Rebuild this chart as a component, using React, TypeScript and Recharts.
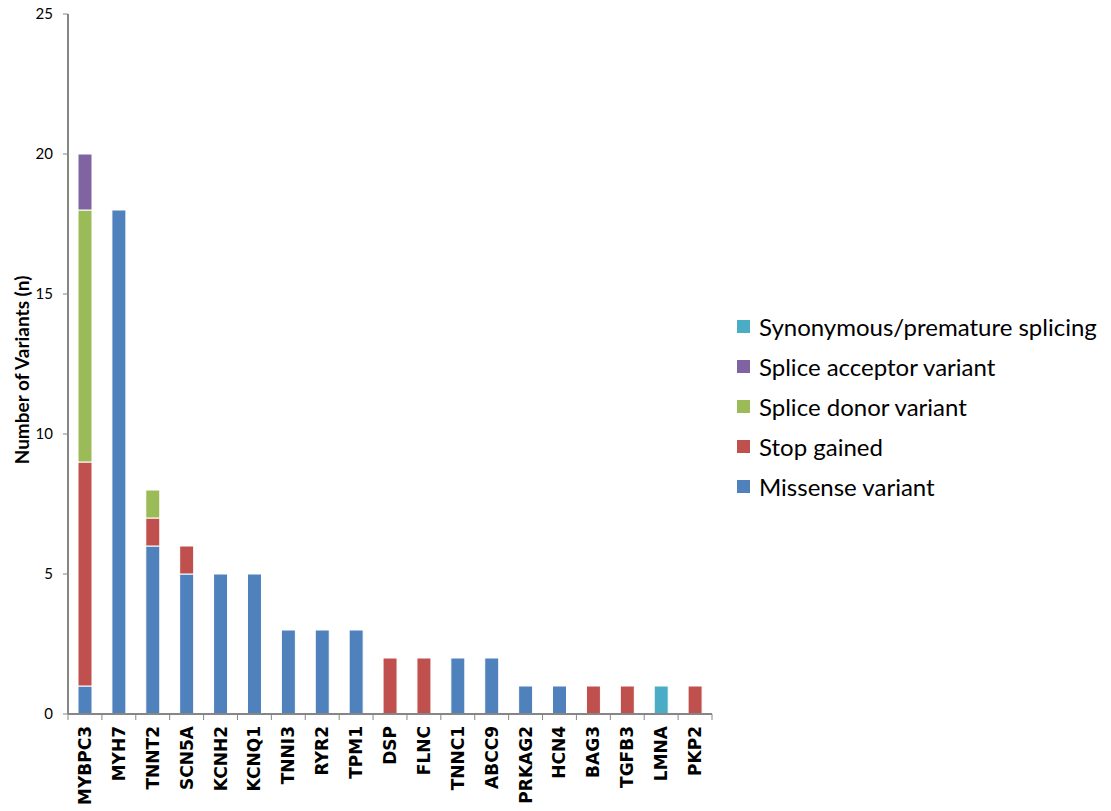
import React from 'react';
import { BarChart, Bar, XAxis, YAxis, Legend } from 'recharts';

// Genes on the x axis
const genes = [
  'MYBPC3', 'MYH7', 'TNNT2', 'SCN5A', 'KCNH2', 'KCNQ1', 'TNNI3', 'RYR2', 'TPM1',
  'DSP', 'FLNC', 'TNNC1', 'ABCC9', 'PRKAG2', 'HCN4', 'BAG3', 'TGFB3', 'LMNA', 'PKP2',
];

// Variant counts per gene, one array per consequence type
const missense = [1, 18, 6, 5, 5, 5, 3, 3, 3, 0, 0, 2, 2, 1, 1, 0, 0, 0, 0];
const stopGained = [8, 0, 1, 1, 0, 0, 0, 0, 0, 2, 2, 0, 0, 0, 0, 1, 1, 0, 1];
const spliceDonor = [9, 0, 1, 0, 0, 0, 0, 0, 0, 0, 0, 0, 0, 0, 0, 0, 0, 0, 0];
const spliceAcceptor = [2, 0, 0, 0, 0, 0, 0, 0, 0, 0, 0, 0, 0, 0, 0, 0, 0, 0, 0];
const synonymous = [0, 0, 0, 0, 0, 0, 0, 0, 0, 0, 0, 0, 0, 0, 0, 0, 0, 1, 0];

const yTicks = [0, 5, 10, 15, 20, 25];

// Series definitions, stacked bottom to top
const series = [
  { key: 'missense', name: 'Missense variant', color: '#4F81BD', values: missense },
  { key: 'stop', name: 'Stop gained', color: '#C0504D', values: stopGained },
  { key: 'donor', name: 'Splice donor variant', color: '#9BBB59', values: spliceDonor },
  { key: 'acceptor', name: 'Splice acceptor variant', color: '#8064A2', values: spliceAcceptor },
  { key: 'syn', name: 'Synonymous/premature splicing', color: '#4BACC6', values: synonymous },
];

const data = genes.map((gene, i) => {
  const row: Record<string, string | number> = { gene };
  series.forEach((s) => {
    row[s.key] = s.values[i];
  });
  return row;
});

const AXIS_COLOR = '#868686';
const LABEL_GAP = 12;
const TICK_LEN = 6;

// Rotated gene label plus the tick marks that sit on the band boundaries
const GeneTick = (props: any) => {
  const { x, y, payload, width, index, visibleTicksCount } = props;
  const band = width / visibleTicksCount;
  const axisY = y - LABEL_GAP;
  const left = x - band / 2;
  const right = x + band / 2;
  return (
    <g>
      <line x1={left} y1={axisY} x2={left} y2={axisY + TICK_LEN} stroke={AXIS_COLOR} strokeWidth={1} />
      {index === visibleTicksCount - 1 && (
        <line x1={right} y1={axisY} x2={right} y2={axisY + TICK_LEN} stroke={AXIS_COLOR} strokeWidth={1} />
      )}
      <text
        x={x}
        y={y}
        transform={`rotate(-90, ${x}, ${y})`}
        textAnchor="end"
        dominantBaseline="central"
        fontFamily="DejaVu Sans"
        fontWeight="bold"
        fontSize={17}
        fill="#000"
      >
        {payload.value}
      </text>
    </g>
  );
};

const YLabel = (props: any) => {
  const { viewBox } = props;
  const cy = viewBox.y + viewBox.height / 2 + 6;
  return (
    <text
      x={21}
      y={cy}
      transform={`rotate(-90, 21, ${cy})`}
      textAnchor="middle"
      dominantBaseline="central"
      fontFamily="Lato"
      fontWeight="bold"
      fontSize={19}
      fill="#000"
    >
      Number of Variants (n)
    </text>
  );
};

const LegendContent = () => {
  const items = [...series].reverse();
  return (
    <div style={{ fontFamily: 'Lato', fontSize: 24, color: '#000' }}>
      {items.map((s) => (
        <div key={s.key} style={{ display: 'flex', alignItems: 'center', height: 40 }}>
          <span
            style={{
              display: 'inline-block',
              width: 13,
              height: 13,
              background: s.color,
              marginRight: 9,
            }}
          />
          <span>{s.name}</span>
        </div>
      ))}
    </div>
  );
};

export default function App() {
  return (
    <div style={{ position: 'absolute', left: 0, top: 0, width: 1111, height: 811, background: '#fff' }}>
      <BarChart
        width={1111}
        height={811}
        data={data}
        margin={{ top: 14, right: 399, bottom: 0, left: 0 }}
        barCategoryGap="0%"
      >
        <XAxis
          dataKey="gene"
          height={97}
          axisLine={{ stroke: AXIS_COLOR, strokeWidth: 2 }}
          tickLine={false}
          tickSize={0}
          interval={0}
          tick={<GeneTick />}
          tickMargin={LABEL_GAP}
        />
        <YAxis
          width={68}
          domain={[0, 25]}
          ticks={yTicks}
          axisLine={{ stroke: AXIS_COLOR, strokeWidth: 2 }}
          tickLine={{ stroke: AXIS_COLOR }}
          tickSize={5}
          tickMargin={10}
          tick={{ fontFamily: 'Lato', fontSize: 15, fill: '#000' }}
          label={<YLabel />}
        />
        <Legend
          layout="vertical"
          align="center"
          verticalAlign="middle"
          wrapperStyle={{ left: 737, top: 306, width: 374 }}
          content={<LegendContent />}
        />
        {series.map((s) => (
          <Bar
            key={s.key}
            dataKey={s.key}
            name={s.name}
            stackId="variants"
            fill={s.color}
            stroke="#ffffff"
            strokeWidth={1}
            barSize={14}
            isAnimationActive={false}
          />
        ))}
      </BarChart>
    </div>
  );
}
